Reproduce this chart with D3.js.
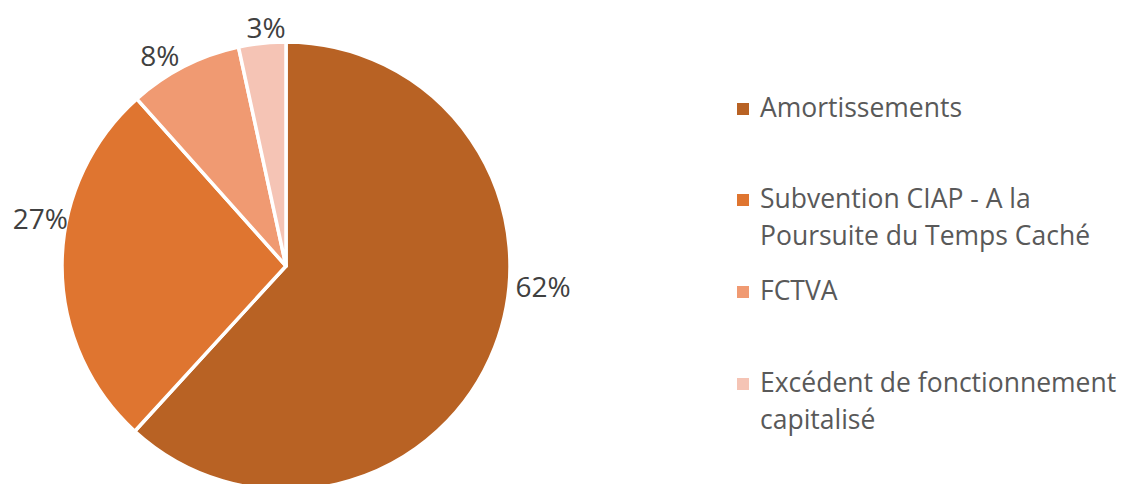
<!DOCTYPE html>
<html>
<head>
<meta charset="utf-8">
<script src="https://cdn.jsdelivr.net/npm/d3@7"></script>
<style>
  body { margin: 0; background: #fff; }
  svg { display: block; font-family: "Open Sans", sans-serif; }
</style>
</head>
<body>
<div id="chart"></div>
<script>
// Data
let categories = ["Amortissements", "Subvention CIAP - A la Poursuite du Temps Caché", "FCTVA", "Excédent de fonctionnement capitalisé"];
let legend_lines = [["Amortissements"], ["Subvention CIAP - A la", "Poursuite du Temps Caché"], ["FCTVA"], ["Excédent de fonctionnement", "capitalisé"]];
let values = [61.8, 26.6, 8.2, 3.4];
let labels = ["62%", "27%", "8%", "3%"];
let colors = ["#B86224", "#DF7530", "#F09A72", "#F5C4B5"];

// label placement (best fit): angle in degrees from 12 o'clock, distance from centre
let label_angle = [94.7, 280.8, 329.0, 355.2];
let label_dist = [258, 250, 245, 239];

let width = 1128, height = 484;
let cx = 286, cy = 266, radius = 224;

let svg = d3.select("#chart")
    .append("svg")
        .attr("width", width)
        .attr("height", height);

let pie = d3.pie().sort(null).value(d => d);
let arcs = pie(values);
let arc = d3.arc().innerRadius(0).outerRadius(radius);

let g = svg.append("g")
    .attr("transform", "translate(" + cx + "," + cy + ")");

g.selectAll("path")
    .data(arcs)
    .enter()
    .append("path")
        .attr("d", arc)
        .attr("fill", (d, i) => colors[i])
        .attr("stroke", "#fff")
        .attr("stroke-width", 3.5)
        .attr("stroke-linejoin", "round");

// Percent labels
g.selectAll("text.pct")
    .data(arcs)
    .enter()
    .append("text")
        .attr("class", "pct")
        .attr("x", (d, i) => Math.sin(label_angle[i] * Math.PI / 180) * label_dist[i])
        .attr("y", (d, i) => -Math.cos(label_angle[i] * Math.PI / 180) * label_dist[i] + 10)
        .attr("text-anchor", "middle")
        .style("font-size", "28px")
        .attr("fill", "#404040")
        .text((d, i) => labels[i]);

// Legend
let legend_y = [117, 208, 300, 392];
let legend = svg.append("g");
legend_lines.forEach(function(lines, i) {
    legend.append("rect")
        .attr("x", 737)
        .attr("y", legend_y[i] - 14)
        .attr("width", 12)
        .attr("height", 12)
        .attr("fill", colors[i]);
    lines.forEach(function(line, j) {
        legend.append("text")
            .attr("x", 760)
            .attr("y", legend_y[i] + j * 37)
            .style("font-size", "26.5px")
            .attr("fill", "#595959")
            .text(line);
    });
});
</script>
</body>
</html>
